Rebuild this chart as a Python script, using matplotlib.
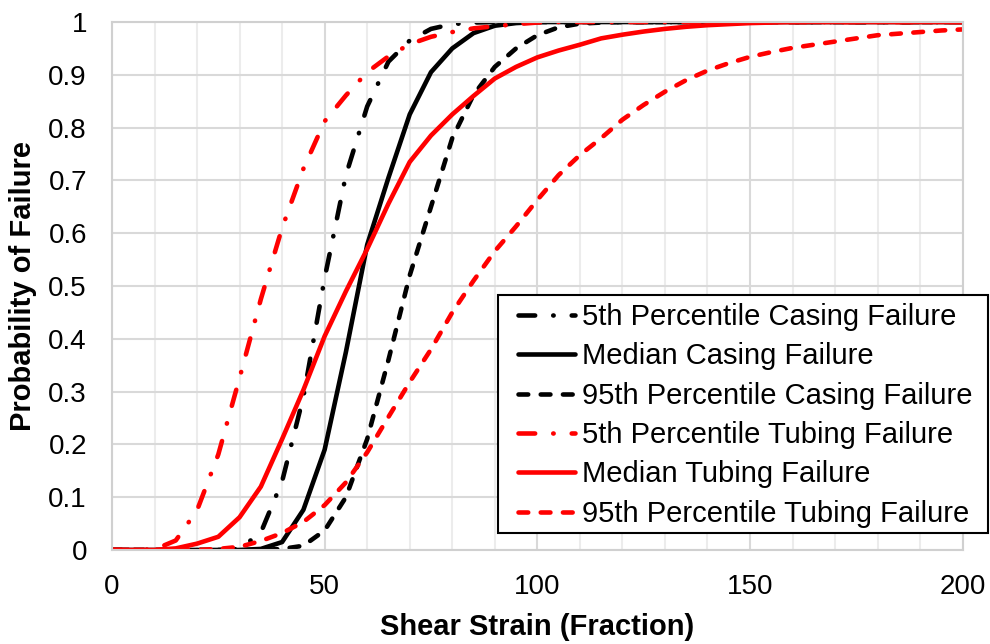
import numpy as np
import matplotlib
matplotlib.use("Agg")
import matplotlib.pyplot as plt
from matplotlib.patches import Rectangle

plt.rcParams['font.family'] = ['Liberation Sans', 'DejaVu Sans']
plt.rcParams['lines.scale_dashes'] = False

# shear strain, sampled every 5
strain = list(range(0, 201, 5))

casing_p05 = [0, 0, 0, 0, 0, 0, 0.002, 0.033, 0.13, 0.29, 0.515, 0.71, 0.84, 0.925,
              0.965, 0.987, 0.996, 0.999] + [1] * 23
casing_med = [0] * 7 + [0.002, 0.015, 0.076, 0.19, 0.375, 0.578, 0.705, 0.825, 0.905,
                        0.95, 0.979, 0.993, 0.998] + [1] * 21
casing_p95 = [0] * 8 + [0.002, 0.008, 0.037, 0.10, 0.21, 0.36, 0.52, 0.65, 0.78, 0.862,
                        0.915, 0.95, 0.975, 0.99, 0.997, 0.999] + [1] * 17
tubing_p05 = [0, 0, 0.001, 0.018, 0.075, 0.181, 0.326, 0.475, 0.61, 0.722, 0.812, 0.861,
              0.905, 0.935, 0.958, 0.972, 0.981, 0.988, 0.992, 0.996, 0.999] + [1] * 20
tubing_med = [0, 0, 0, 0.003, 0.012, 0.025, 0.062, 0.12, 0.21, 0.303, 0.405, 0.49, 0.57,
              0.656, 0.735, 0.785, 0.825, 0.86, 0.893, 0.915, 0.933, 0.946, 0.957, 0.969,
              0.976, 0.982, 0.987, 0.991, 0.994, 0.996, 0.998, 0.999] + [1] * 9
tubing_p95 = [0] * 5 + [0.002, 0.006, 0.017, 0.032, 0.053, 0.085, 0.128, 0.185, 0.252,
                        0.318, 0.38, 0.45, 0.51, 0.566, 0.613, 0.663, 0.71, 0.748, 0.78,
                        0.815, 0.843, 0.868, 0.89, 0.908, 0.922, 0.934, 0.943, 0.951,
                        0.957, 0.963, 0.969, 0.975, 0.978, 0.981, 0.984, 0.986]

labels = ["5th Percentile Casing Failure", "Median Casing Failure",
          "95th Percentile Casing Failure", "5th Percentile Tubing Failure",
          "Median Tubing Failure", "95th Percentile Tubing Failure"]

dashdot = (0, (12, 13, 0.3, 13))
dashed = (0, (7, 9))

W, H = 990, 644
fig = plt.figure(figsize=(9.9, 6.44), dpi=100)
ax = fig.add_axes([0.1131, 0.146, 0.8593, 0.8198])

series = [
    (casing_p05, 'black', dashdot),
    (casing_med, 'black', '-'),
    (casing_p95, 'black', dashed),
    (tubing_p05, 'red', dashdot),
    (tubing_med, 'red', '-'),
    (tubing_p95, 'red', dashed),
]
for (y, c, ls), lab in zip(series, labels):
    ax.plot(strain, y, color=c, linestyle=ls, lw=3.3, label=lab,
            dash_capstyle='round', solid_capstyle='round', solid_joinstyle='round')

ax.set_xlim(0, 200)
ax.set_ylim(0, 1)
ax.set_xticks(range(0, 201, 50))
ax.set_xticks(range(0, 201, 10), minor=True)
ax.set_yticks(np.arange(0, 1.01, 0.1))
ax.set_yticklabels(["0"] + [f"{v:.1f}" for v in np.arange(0.1, 0.95, 0.1)] + ["1"])
ax.grid(which='major', color='#d9d9d9', lw=1.5)
ax.grid(which='minor', axis='x', color='#ececec', lw=1.5)
ax.set_axisbelow(True)
ax.tick_params(which='both', length=0, labelsize=20)
ax.tick_params(axis='x', pad=17)
ax.tick_params(axis='y', pad=18)
for s in ax.spines.values():
    s.set_color('#d0d0d0')
    s.set_linewidth(1.5)

ax.set_xlabel("Shear Strain (Fraction)", fontsize=21, fontweight='bold', labelpad=10)
ax.set_ylabel("Probability of Failure", fontsize=21, fontweight='bold', labelpad=8)

# legend box hangs past the right edge of the plot area, so draw it separately
box = Rectangle((498 / W, 1 - 533 / H), 490 / W, 238 / H, transform=fig.transFigure,
                facecolor='white', edgecolor='black', lw=1.5, clip_on=False, zorder=4.5)
ax.add_patch(box)
ax.legend(loc='upper left', bbox_to_anchor=(518 / W, 1 - 303 / H),
          bbox_transform=fig.transFigure, fontsize=21, frameon=False,
          handlelength=1.95, handletextpad=0.25, labelspacing=0.39,
          borderpad=0, borderaxespad=0)

fig.savefig("out.png", dpi=100)
